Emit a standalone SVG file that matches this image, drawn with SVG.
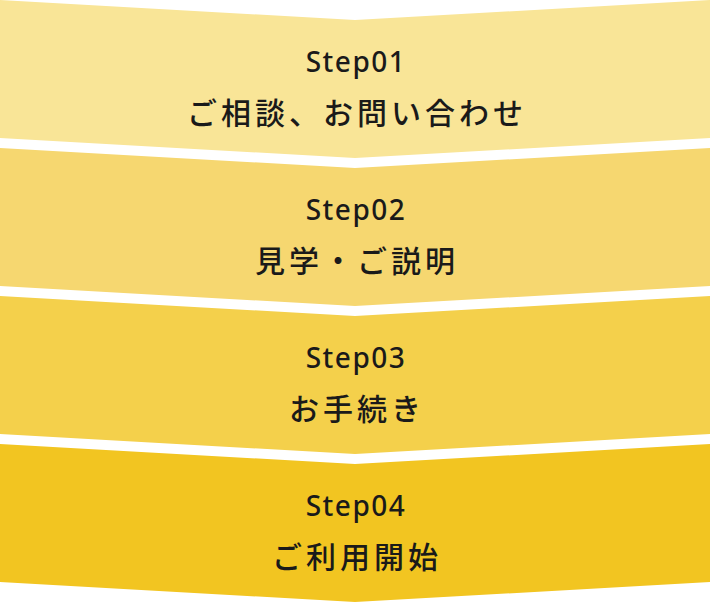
<svg xmlns="http://www.w3.org/2000/svg" width="710" height="602" viewBox="0 0 710 602">
<style>
.step{font-family:"Noto Sans","Liberation Sans",sans-serif;font-size:28px;font-weight:500;fill:#1a1a1a;text-anchor:middle;letter-spacing:1.5px}
.jp{font-family:"Noto Sans CJK JP","Noto Sans",sans-serif;font-size:30px;font-weight:500;fill:#1a1a1a;text-anchor:middle;letter-spacing:4px}
</style>
<rect width="710" height="602" fill="#ffffff"/>
<g id="step01">
<polygon points="0,0 355,20 710,0 710,138 355,158 0,138" fill="#F9E597"/>
<text class="step" x="356" y="72">Step01</text>
<text class="jp" x="357" y="124">ご相談、お問い合わせ</text>
</g>
<g id="step02">
<polygon points="0,148 355,168 710,148 710,286 355,306 0,286" fill="#F6D770"/>
<text class="step" x="356" y="220">Step02</text>
<text class="jp" x="357" y="272">見学・ご説明</text>
</g>
<g id="step03">
<polygon points="0,296 355,316 710,296 710,434 355,454 0,434" fill="#F4D04B"/>
<text class="step" x="356" y="368">Step03</text>
<text class="jp" x="357" y="420">お手続き</text>
</g>
<g id="step04">
<polygon points="0,444 355,464 710,444 710,582 355,602 0,582" fill="#F2C521"/>
<text class="step" x="356" y="516">Step04</text>
<text class="jp" x="357" y="568">ご利用開始</text>
</g>
<g id="connectors"></g>
</svg>
